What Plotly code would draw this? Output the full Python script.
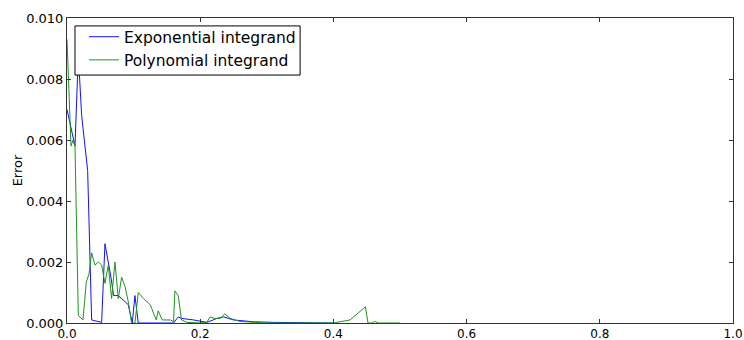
import plotly.graph_objects as go

exp_x = [0.0, 0.012, 0.017, 0.022, 0.031, 0.037, 0.052, 0.057, 0.066, 0.070, 0.077,
         0.092, 0.098, 0.102, 0.107, 0.160, 0.167, 0.172, 0.190, 0.200, 0.210,
         0.225, 0.235, 0.250, 0.280, 0.310, 0.350, 0.400]
exp_y = [0.0070, 0.0058, 0.0088, 0.0068, 0.0050, 0.0001, 0.00002, 0.0026, 0.0015,
         0.0009, 0.0009, 0.0006, 0.0, 0.0009, 0.0, 0.0, 0.0002, 0.00015, 0.0001,
         0.00005, 0.00002, 0.00015, 0.0002, 0.0001, 0.00004, 0.00002, 0.00001, 0.0]

poly_x = [0.0, 0.006, 0.009, 0.012, 0.017, 0.024, 0.029, 0.033, 0.037, 0.042, 0.047,
          0.052, 0.057, 0.062, 0.067, 0.072, 0.077, 0.082, 0.087, 0.092, 0.097,
          0.102, 0.107, 0.115, 0.125, 0.129, 0.134, 0.137, 0.143, 0.155, 0.160,
          0.162, 0.167, 0.172, 0.180, 0.200, 0.210, 0.215, 0.222, 0.230, 0.237,
          0.245, 0.260, 0.300, 0.400, 0.425, 0.435, 0.448, 0.452, 0.458, 0.462,
          0.468, 0.500]
poly_y = [0.0093, 0.0058, 0.0060, 0.0058, 0.00025, 0.0001, 0.00135, 0.0016, 0.0023,
          0.0019, 0.0020, 0.0019, 0.0013, 0.0019, 0.0008, 0.0020, 0.0008, 0.0015,
          0.0012, 0.0007, 0.0, 0.0, 0.0010, 0.0008, 0.0006, 0.0004, 0.0001, 0.0004,
          0.0001, 0.0001, 0.00005, 0.00105, 0.0009, 0.0001, 0.00002, 0.0, 0.00003,
          0.0002, 0.00015, 0.00015, 0.0003, 0.00015, 0.00005, 0.0, 0.0, 0.0001,
          0.0003, 0.00053, 0.0, 0.0, 0.00005, 0.0, 0.0]

y_ticks = [0.000, 0.002, 0.004, 0.006, 0.008, 0.010]
x_ticks = [0.0, 0.2, 0.4, 0.6, 0.8, 1.0]

font = "DejaVu Sans"

fig = go.Figure()
fig.add_trace(go.Scatter(x=exp_x, y=exp_y, mode="lines", name="Exponential integrand",
                         line=dict(color="#1010ff", width=1)))
fig.add_trace(go.Scatter(x=poly_x, y=poly_y, mode="lines", name="Polynomial integrand",
                         line=dict(color="#1a961a", width=1)))

axis_common = dict(showline=True, linecolor="#333333", linewidth=1, mirror="ticks",
                   ticks="inside", ticklen=4, tickcolor="#333333", showgrid=False,
                   zeroline=False, automargin=False)

# legend frame (matplotlib-style box)
fig.add_shape(type="rect", xref="paper", yref="paper",
              x0=0.012, x1=0.350, y0=0.813, y1=0.974,
              line=dict(color="black", width=1), fillcolor="white", layer="above")

fig.update_layout(
    width=744, height=340,
    margin=dict(l=67, r=11, t=18, b=17),
    paper_bgcolor="white", plot_bgcolor="white",
    font=dict(family=font, size=13, color="black"),
    xaxis=dict(range=[0, 1], tickvals=x_ticks, ticktext=[f"{v:.1f}" for v in x_ticks],
               ticklabelstandoff=0, tickfont=dict(family=font, size=12, color="black"),
               **axis_common),
    yaxis=dict(range=[0, 0.010], tickvals=y_ticks, ticktext=[f"{v:.3f}" for v in y_ticks],
               tickfont=dict(family=font, size=13, color="black"),
               title=dict(text="Error", font=dict(family=font, size=13), standoff=0),
               **axis_common),
    legend=dict(x=0.0255, y=0.993, xanchor="left", yanchor="top",
                borderwidth=0, bgcolor="rgba(0,0,0,0)",
                font=dict(family=font, size=15.5), itemwidth=30,
                tracegroupgap=0),
    showlegend=True,
)

fig.write_html("out.html", config={"displayModeBar": False},
               post_script="document.body.style.margin='0';document.body.style.overflow='hidden';")
